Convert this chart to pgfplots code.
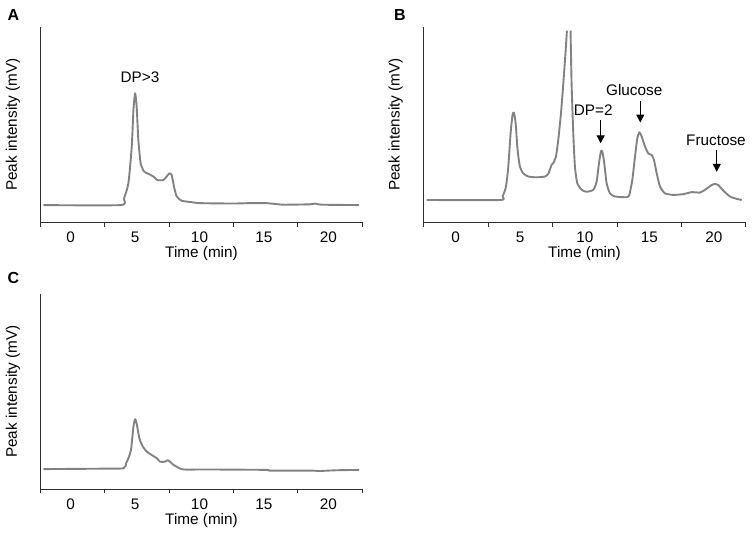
\documentclass[border=0pt]{standalone}
\usepackage{fontspec}
\setmainfont{Liberation Sans}
\usepackage{pgfplots}
\pgfplotsset{compat=1.18}
\usetikzlibrary{arrows.meta}
\definecolor{trace}{RGB}{130,130,130}
\definecolor{axline}{RGB}{45,45,45}
\newcommand{\fs}{\fontsize{15.3}{18}\selectfont}
\pgfplotsset{
 chrom/.style={
  scale only axis, height=195.6pt,
  ymin=0, ymax=5, ytick=\empty, minor ytick={0,1,2,3,4,5},
  xtick={0,5,10,15,20}, xticklabels={0,5,10,15,20},
  axis lines=left, axis line style={-, axline, line width=0.9pt},
  tick style={axline, line width=0.9pt},
  major tick length=0pt, minor tick length=4.5pt, tick align=outside,
  xticklabel style={anchor=center, yshift=-15pt, font=\fs},
  xlabel={Time (min)}, ylabel={Peak intensity (mV)},
  xlabel style={at={(axis description cs:0.5,-0.162)}, anchor=center, font=\fs},
  ylabel style={at={(axis description cs:-0.086,0.5)}, anchor=center, font=\fs},
  clip=false,
 },
 trc/.style={trace, line width=1.9pt, line join=round, smooth, tension=0.35, mark=none},
}
\begin{document}
\begin{tikzpicture}
\path[use as bounding box] (0,0) rectangle (753pt,537pt);
% Panel A
\begin{axis}[chrom, at={(40.7pt,314.7pt)}, anchor=south west, width=321.6pt,
  xmin=-2.33, xmax=22.64, minor xtick={-2.33,2.65,7.65,12.63,17.63,22.64}]
\addplot[trc] coordinates {
(-2.12,0.44) (3.88,0.44) (4.14,0.61) (4.48,1.0) (4.74,1.94) (4.87,2.87) (5.0,3.30)
(5.12,2.96) (5.25,2.11) (5.43,1.51) (5.69,1.30) (6.03,1.24) (6.42,1.17) (6.73,1.08)
(7.19,1.08) (7.45,1.17) (7.66,1.25) (7.84,1.21) (8.02,0.91) (8.23,0.66) (8.62,0.55)
(9.27,0.52) (10.04,0.49) (12.63,0.48) (13.9,0.49) (15.2,0.49) (16.5,0.45) (18.6,0.46)
(19.0,0.48) (19.5,0.45) (22.4,0.44)};
\node[font=\fs] at (axis cs:5.38,3.71) {DP>3};
\end{axis}
% Panel B
\begin{axis}[chrom, at={(423.3pt,314.7pt)}, anchor=south west, width=322.4pt,
  xmin=-2.5, xmax=22.46, minor xtick={-2.5,2.53,7.51,12.52,17.5,22.46},
  unbounded coords=jump]
\addplot[trc] coordinates {
(-2.25,0.57) (3.43,0.57) (3.64,0.66) (3.90,0.91) (4.08,1.42) (4.26,2.28) (4.41,2.75)
(4.52,2.80) (4.65,2.53) (4.80,1.85) (4.98,1.42) (5.24,1.25) (5.63,1.17) (6.27,1.15)
(6.92,1.17) (7.18,1.24) (7.43,1.47) (7.56,1.51) (7.77,1.68) (7.95,2.11) (8.16,2.79)
(8.34,3.55) (8.49,4.24) (8.62,4.90) (8.76,nan) (8.90,4.90) (8.98,3.55) (9.11,2.28)
(9.24,1.42) (9.42,1.0) (9.76,0.83) (10.14,0.78) (10.66,0.83) (10.92,1.04) (11.1,1.51)
(11.25,1.81) (11.36,1.81) (11.51,1.51) (11.69,1.0) (11.95,0.74) (12.34,0.66) (13.24,0.64)
(13.45,0.70) (13.68,1.08) (13.89,1.68) (14.07,2.15) (14.23,2.30) (14.41,2.19) (14.66,1.94)
(14.92,1.76) (15.18,1.72) (15.36,1.59) (15.57,1.25) (15.83,0.91) (16.21,0.74) (16.86,0.70)
(17.63,0.72) (18.28,0.77) (18.92,0.76) (19.31,0.83) (19.82,0.95) (20.08,0.98) (20.34,0.95)
(20.73,0.81) (21.24,0.66) (21.76,0.60) (22.15,0.57)};
\node[font=\fs] at (axis cs:10.66,2.87) {DP=2};
\node[font=\fs] at (axis cs:13.83,3.37) {Glucose};
\node[font=\fs] at (axis cs:20.16,2.09) {Fructose};
\draw[black, line width=1.3pt, -{Triangle[width=8pt,length=8pt]}] (axis cs:11.23,2.62) -- (axis cs:11.23,2.02);
\draw[black, line width=1.3pt, -{Triangle[width=8pt,length=8pt]}] (axis cs:14.30,3.10) -- (axis cs:14.30,2.55);
\draw[black, line width=1.3pt, -{Triangle[width=8pt,length=8pt]}] (axis cs:20.22,1.85) -- (axis cs:20.22,1.29);
\end{axis}
% Panel C
\begin{axis}[chrom, at={(40.7pt,48pt)}, anchor=south west, width=321.6pt, height=195pt,
  xmin=-2.33, xmax=22.64, minor xtick={-2.33,2.65,7.65,12.63,17.63,22.64}]
\addplot[trc] coordinates {
(-2.12,0.51) (2.02,0.52) (4.09,0.53) (4.3,0.66) (4.48,0.79) (4.68,1.0) (4.87,1.60)
(5.0,1.79) (5.12,1.68) (5.33,1.30) (5.59,1.09) (5.90,0.96) (6.29,0.87) (6.68,0.79)
(6.94,0.70) (7.32,0.70) (7.53,0.74) (7.71,0.70) (7.97,0.62) (8.36,0.55) (8.75,0.50)
(10.8,0.50) (15.2,0.49) (15.5,0.47) (18.8,0.47) (19.2,0.46) (20.6,0.48) (22.4,0.49)};
\end{axis}
\node[font=\bfseries\fontsize{16}{19}\selectfont] at (13.3pt,522pt) {A};
\node[font=\bfseries\fontsize{16}{19}\selectfont] at (400pt,522pt) {B};
\node[font=\bfseries\fontsize{16}{19}\selectfont] at (13.3pt,259pt) {C};
\end{tikzpicture}
\end{document}
